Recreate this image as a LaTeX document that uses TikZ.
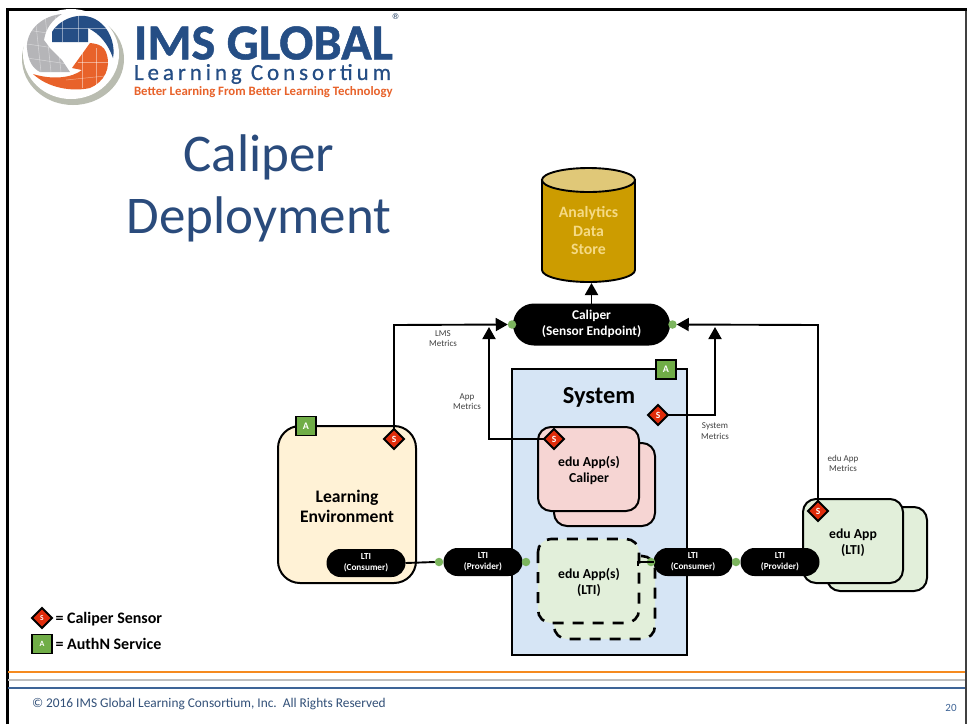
\documentclass[tikz,border=0pt]{standalone}
\usepackage{fontspec}
\setmainfont{Carlito}
\newfontfamily\symfont{DejaVu Sans}
\usetikzlibrary{arrows.meta,calc,shapes.geometric}
\definecolor{navy}{HTML}{254E85}
\definecolor{titleblue}{HTML}{2A4B7C}
\definecolor{sensorred}{HTML}{E02C0B}
\definecolor{authgreen}{HTML}{70AD47}
\definecolor{dotgreen}{HTML}{7CB55E}
\definecolor{appgreen}{HTML}{E2EFDA}
\definecolor{apppink}{HTML}{F6D5D3}
\definecolor{sysblue}{HTML}{D6E5F5}
\definecolor{envyellow}{HTML}{FFF2D6}
\definecolor{gold}{HTML}{CC9C00}
\definecolor{goldtop}{HTML}{E0C878}
\definecolor{goldtext}{HTML}{F5DA85}
\definecolor{footblue}{HTML}{3E6496}
\definecolor{footorange}{HTML}{F58A1F}
\definecolor{logoorange}{HTML}{E8622A}
\definecolor{ringgray}{HTML}{B9BCB0}
\definecolor{globegray}{HTML}{B5B5B8}
\newcommand\lowered[2]{\raisebox{-#1}{\begin{tabular}{@{}c@{}}#2\end{tabular}}}
\tikzset{
  x=1pt,y=-1pt,
  every node/.style={inner sep=0pt,outer sep=0pt,align=center},
  stacked/.style={draw=black,line width=2pt,rounded corners=13pt},
  dashedstack/.style={stacked,dash pattern=on 11pt off 9pt,line width=2.6pt},
  pill/.style={fill=black,text=white,rounded corners=14pt,minimum width=79pt,minimum height=28pt,font=\fontsize{9.2}{11}\selectfont\bfseries},
  sensor/.style={diamond,draw=black,fill=sensorred,line width=1.8pt,minimum width=20pt,minimum height=20pt,text=white,font=\fontsize{9.5}{9}\selectfont\bfseries},
  authbox/.style={draw=black,fill=authgreen,line width=1.8pt,minimum width=20pt,minimum height=19pt,text=white,font=\fontsize{10}{10}\selectfont\bfseries},
  dotg/.style={circle,fill=dotgreen,minimum size=8.5pt},
  wire/.style={draw=black,line width=1.9pt},
  flow/.style={wire,-{Triangle[length=12pt,width=13pt]}},
  metric/.style={font=\fontsize{9}{10.5}\selectfont,text=black!75},
  boxlabel/.style={font=\fontsize{13.7}{16}\selectfont\bfseries},
  gridline/.style={white,line width=.5pt,opacity=.45},
}
\begin{document}
\begin{tikzpicture}
\useasboundingbox (0,0) rectangle (969,724);
\fill[white] (0,0) rectangle (969,724);
% frame
\draw[black!75,line width=1.5pt] (966,9.5) -- (966,724);
\draw[black,line width=3pt] (7.5,724) -- (7.5,9.5) -- (966.5,9.5);
% logo
\fill[ringgray] (73,59) circle (51 and 46);
\fill[white] (71,54) circle (48 and 45);
\fill[globegray] (62,14) .. controls (40,16) and (26,32) .. (27,48) .. controls (28,60) and (32,68) .. (40,72) -- (70,72) -- (62,60) -- (50,48) -- (44,40) .. controls (46,28) and (52,20) .. (62,14) -- cycle;
\begin{scope}
\clip (27,12) rectangle (70,75);
\foreach \g in {35,45,55}{\draw[gridline] (\g,15) -- (\g+6,72);}
\foreach \g in {30,44,58}{\draw[gridline] (27,\g) -- (68,\g+6);}
\end{scope}
\path[fill=navy] (52,32) .. controls (60,18) and (85,8) .. (102,24) .. controls (112,33) and (115,48) .. (113,58) .. controls (108,44) and (100,34) .. (88,28) -- (88,42) -- (52,42) -- cycle;
\path[fill=logoorange] (90,43) -- (72,68) -- (82,70) .. controls (72,78) and (52,80) .. (33,74) .. controls (48,88) and (72,92) .. (90,88) .. controls (104,82) and (112,68) .. (106,52) .. controls (104,47) and (100,44) .. (90,43) -- cycle;
\foreach \g in {62,78}{\draw[gridline] (\g,15) -- (\g,42);}
\draw[gridline] (55,28) -- (110,28);
\foreach \g in {82,96}{\draw[gridline] (\g,48) -- (\g,88);}
\draw[gridline] (78,62) -- (108,62);
\draw[gridline] (66,80) -- (105,76);
\node[anchor=west,text=navy,font=\fontsize{50.4}{50}\selectfont\bfseries\addfontfeature{FakeBold=1}] (ims) at (134,43) {IMS GLOBAL};
\node[text=navy!70!black,font=\symfont\fontsize{8}{8}\selectfont] (reg) at (395.5,17) {®};
\node[anchor=west,text=navy,font=\fontsize{23}{23}\selectfont\addfontfeature{LetterSpace=17,FakeBold=.6}] (lc) at (134,74) {Learning Consortium};
\node[anchor=west,text=logoorange,font=\fontsize{12.8}{12}\selectfont\bfseries] (tag) at (134,92) {Better Learning From Better Learning Technology};
% title
\node[text=titleblue,font=\fontsize{53}{62}\selectfont] (title) at (259,188.5) {Caliper\\Deployment};
% store
\draw[line width=1.9pt,fill=gold] (542,180) -- (542,270) arc[start angle=180,end angle=360,x radius=46.5,y radius=-12] -- (635,180) -- cycle;
\draw[line width=1.9pt,fill=goldtop] (588.5,180) circle (46.5 and 12);
\node[text=goldtext,font=\fontsize{15.8}{18.5}\selectfont\bfseries] (store) at (588.5,230.5) {Analytics\\Data\\Store};
% system
\draw[draw=black,fill=sysblue,line width=1.9pt] (512,369) rectangle (687,655);
\node[font=\fontsize{24.4}{24}\selectfont\bfseries] (sys) at (599,397) {System};
\node[authbox] (asys) at (666,369.5) {A};
% learning env
\draw[stacked,fill=envyellow,rounded corners=22pt] (278,426) rectangle (416,583);
\node[font=\fontsize{17.6}{20}\selectfont\bfseries] (le) at (347,506) {Learning\\Environment};
\node[authbox] (ale) at (306,426) {A};
% pink apps
\draw[stacked,fill=apppink] (554,443) rectangle (655,526);
\draw[stacked,fill=apppink] (538,427) rectangle (639,511);
\node[boxlabel] (pinklab) at (589,470) {edu App(s)\\Caliper};
% dashed apps
\draw[dashedstack,fill=appgreen] (554,556) rectangle (655,639);
\draw[dashedstack,fill=appgreen] (538,539) rectangle (639,623);
\node[boxlabel] (dashlab) at (589,582) {edu App(s)\\(LTI)};
% right apps
\draw[stacked,fill=appgreen] (827,507) rectangle (927,591);
\draw[stacked,fill=appgreen] (803,499) rectangle (903,583);
\node[boxlabel] (applab) at (853,543) {edu App\\(LTI)};
% pills
\node[pill] (lticons) at (366,563) {\lowered{1.5pt}{LTI\\(Consumer)}};
\node[pill] (ltiprov) at (483,562) {\lowered{1.5pt}{LTI\\(Provider)}};
\node[pill] (lticons2) at (693,562) {\lowered{1.5pt}{LTI\\(Consumer)}};
\node[pill] (ltiprov2) at (780,562) {\lowered{1.5pt}{LTI\\(Provider)}};
\node[pill,rounded corners=21pt,minimum width=157pt,minimum height=42pt,font=\fontsize{13.4}{16}\selectfont\bfseries] (cal) at (591.5,324.5) {\lowered{2pt}{Caliper\\(Sensor Endpoint)}};
% dots
\node[dotg] (d1) at (512,324.5) {};
\node[dotg] (d2) at (672.5,324.5) {};
\node[dotg] (d3) at (439,562) {};
\node[dotg] (d4) at (526,562) {};
\node[dotg] (d5) at (651,562) {};
\node[dotg] (d6) at (736,562) {};
% sensors
\node[sensor] (sle) at (394,439) {S};
\node[sensor] (spink) at (554,439) {S};
\node[sensor] (ssys) at (658,415) {S};
\node[sensor] (sapp) at (818,511) {S};
% connectors
\coordinate (storebot) at (591.5,283);
\draw[flow] (cal.north) -- (storebot);
\coordinate (jl) at (394,325);
\coordinate (jr) at (818,325);
\draw[flow] (sle.north) -- (jl) -- (d1.west);
\draw[flow] (sapp.north) -- (jr) -- (d2.east);
\coordinate (ja) at (489,327);
\draw[flow] (spink.west) -- (489,439) -- (ja);
\coordinate (js) at (715,327);
\draw[flow] (ssys.east) -- (715,415) -- (js);
\draw[wire] (lticons.east) -- (d3.west);
\draw[wire] (lticons2.west) -- (638,562) -- (638,566);
% metric labels
\node[metric] (m1) at (443,338.5) {LMS\\Metrics};
\node[metric] (m2) at (467,401.5) {App\\Metrics};
\node[metric] (m3) at (715,431) {System\\Metrics};
\node[metric] (m4) at (843,463.5) {edu App\\Metrics};
% legend
\node[sensor,font=\fontsize{7.5}{8}\selectfont\bfseries] (ls) at (42,618) {S};
\node[anchor=west,font=\fontsize{16}{16}\selectfont\bfseries] (lst) at (55.5,619.5) {= Caliper Sensor};
\node[authbox,font=\fontsize{8}{8}\selectfont\bfseries] (la) at (42,644) {A};
\node[anchor=west,font=\fontsize{16}{16}\selectfont\bfseries] (lat) at (55.5,644) {= AuthN Service};
% footer
\draw[footorange,line width=1.3pt] (8,672) -- (965,672);
\draw[black!25,line width=1.5pt] (8,680) -- (965,680);
\draw[footblue,line width=1.5pt] (8,688) -- (965,688);
\node[anchor=west,text=footblue!80!black,font=\fontsize{13.35}{13}\selectfont] (copy) at (32,703.5) {© 2016 IMS Global Learning Consortium, Inc.\ \ All Rights Reserved};
\node[text=footblue,font=\fontsize{11}{11}\selectfont] (pg) at (951,708) {20};
\end{tikzpicture}
\end{document}
